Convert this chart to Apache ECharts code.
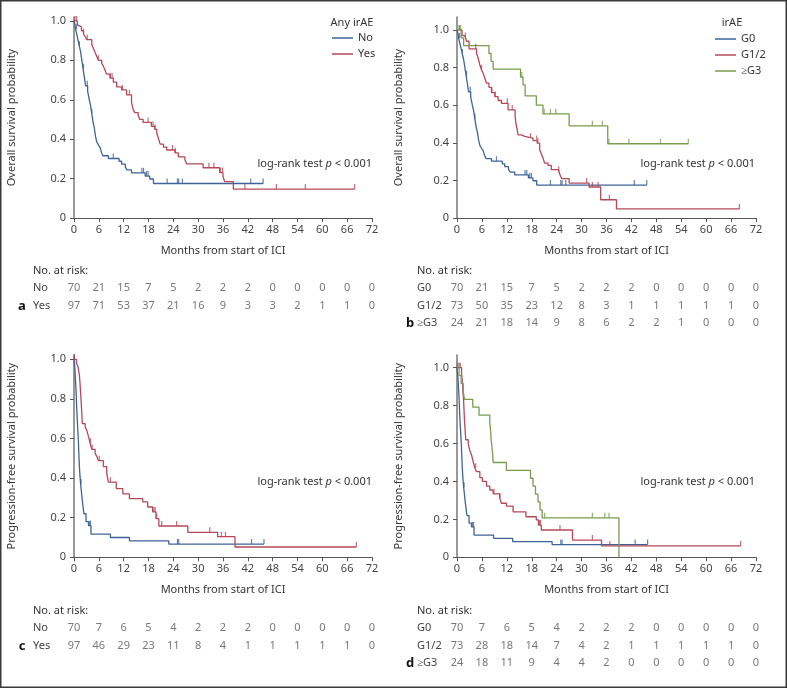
<!DOCTYPE html>
<html><head><meta charset="utf-8">
<script src="https://cdn.jsdelivr.net/npm/echarts@6/dist/echarts.min.js"></script>
<style>html,body{margin:0;padding:0;background:#fff}#c{width:787px;height:688px}</style>
</head><body><div id="c"></div>
<script>
// ---------- tick labels ----------
const xTicks = [0,6,12,18,24,30,36,42,48,54,60,66,72];
const yTicks = [0,0.2,0.4,0.6,0.8,1.0];

// ---------- Overall survival (a, b) ----------
const osNo = [[0,1],[0.2,0.986],[0.4,0.957],[0.7,0.929],[1.0,0.9],[1.3,0.871],[1.6,0.843],[1.9,0.8],[2.2,0.757],[2.5,0.714],[2.8,0.671],[3.3,0.643],[3.7,0.6],[4.0,0.571],[4.3,0.529],[4.6,0.486],[4.9,0.457],[5.2,0.414],[5.5,0.386],[5.9,0.371],[6.3,0.357],[6.7,0.329],[7.0,0.316],[8.3,0.302],[10.9,0.288],[11.5,0.273],[12.4,0.259],[12.8,0.244],[13.9,0.229],[17.2,0.213],[18.3,0.198],[19.2,0.175],[45.7,0.175]];
const osNoCens = [0.6,1.3,2.3,3.2,4.3,9.5,16.4,16.8,17.5,17.9,22.5,25.0,25.3,26.2,42.7,45.7];
const osYes = [[0,1],[0.8,0.98],[1.1,0.97],[1.8,0.95],[2.3,0.935],[2.7,0.92],[3.1,0.905],[4.3,0.88],[4.7,0.86],[5.1,0.84],[5.5,0.82],[5.9,0.80],[6.7,0.785],[7.1,0.77],[7.5,0.75],[7.9,0.73],[8.7,0.71],[9.5,0.69],[10.3,0.665],[11.5,0.65],[12.7,0.625],[13.9,0.585],[14.3,0.55],[14.7,0.535],[15.5,0.52],[15.9,0.50],[16.7,0.485],[18.7,0.465],[19.5,0.45],[20.0,0.43],[20.4,0.405],[20.8,0.375],[21.6,0.36],[22.4,0.345],[24.4,0.33],[25.2,0.31],[26.8,0.295],[27.2,0.275],[31.2,0.255],[35.2,0.23],[36.0,0.21],[36.4,0.185],[38.5,0.147],[67.8,0.147]];
const osYesCens = [0.25,0.65,2.3,3.2,5.9,8.8,9.2,11.7,13.4,17.9,19.1,19.6,23.8,24.5,32.6,33.8,35.4,35.9,41.3,48.9,55.9,67.8];
const osG12 = [[0,1],[1.2,0.97],[1.9,0.96],[2.3,0.94],[2.9,0.90],[4.7,0.876],[5.1,0.85],[5.5,0.814],[5.9,0.788],[6.3,0.77],[6.7,0.743],[7.1,0.717],[7.7,0.695],[8.3,0.667],[9.1,0.646],[9.9,0.625],[10.7,0.61],[12.3,0.575],[14.0,0.54],[14.2,0.50],[14.5,0.47],[14.7,0.442],[15.5,0.434],[16.3,0.425],[18.3,0.412],[19.3,0.398],[19.9,0.363],[20.3,0.342],[20.7,0.319],[21.1,0.292],[21.9,0.28],[22.7,0.257],[24.4,0.248],[24.8,0.23],[25.2,0.209],[27.0,0.186],[31.8,0.165],[34.6,0.097],[38.4,0.048],[68.0,0.048]];
const osG12Cens = [0.6,2.0,4.5,5.9,8.4,9.2,12.1,13.3,17.7,19.2,19.5,24.5,31.2,32.6,34.0,36.7,68.0];
const osG3 = [[0,1],[1.0,0.958],[1.6,0.917],[7.7,0.875],[8.2,0.833],[8.7,0.792],[15.3,0.75],[15.9,0.708],[16.4,0.65],[19.1,0.60],[20.7,0.554],[27.0,0.49],[36.3,0.395],[55.7,0.395]];
const osG3Cens = [0.5,0.9,15.6,21.0,22.5,23.8,32.6,35.0,36.6,41.4,49.0,55.7];

// ---------- Progression-free survival (c, d) ----------
const pfsNo = [[0,1],[0.2,0.957],[0.35,0.9],[0.5,0.84],[0.64,0.76],[0.85,0.67],[1.05,0.59],[1.2,0.51],[1.3,0.46],[1.45,0.41],[1.6,0.37],[1.85,0.32],[2.1,0.27],[2.4,0.22],[2.9,0.18],[3.5,0.16],[4.1,0.117],[8.8,0.10],[13.4,0.083],[22.9,0.067],[45.9,0.067]];
const pfsNoCens = [0.1,1.7,3.7,4.0,25.0,25.3,42.9,45.9];
const pfsYes = [[0,1],[0.6,0.98],[1.0,0.96],[1.3,0.92],[1.45,0.88],[1.6,0.83],[1.75,0.78],[1.9,0.72],[2.0,0.675],[2.7,0.66],[3.1,0.64],[3.5,0.61],[3.9,0.576],[4.3,0.545],[5.1,0.525],[5.5,0.51],[5.9,0.488],[7.1,0.458],[7.9,0.424],[8.3,0.38],[10.2,0.347],[11.8,0.32],[13.4,0.296],[16.6,0.28],[17.8,0.254],[19.0,0.229],[19.8,0.195],[20.5,0.158],[27.5,0.126],[34.7,0.104],[38.9,0.052],[68.2,0.052]];
const pfsYesCens = [0.1,4.0,4.4,6.1,8.8,19.3,19.6,20.0,21.2,24.8,32.8,35.6,36.6,68.2];
const pfsG12 = [[0,1],[1.1,0.97],[1.3,0.92],[1.45,0.87],[1.6,0.82],[1.7,0.77],[1.8,0.72],[1.9,0.69],[2.1,0.62],[2.7,0.60],[3.05,0.566],[3.5,0.54],[3.9,0.504],[4.3,0.47],[4.7,0.452],[5.5,0.42],[6.1,0.40],[7.1,0.375],[7.9,0.355],[8.7,0.334],[10.3,0.311],[10.7,0.285],[11.9,0.27],[13.5,0.24],[16.6,0.214],[19.1,0.197],[19.6,0.17],[20.3,0.144],[27.8,0.091],[34.8,0.06],[68.3,0.06]];
const pfsG12Cens = [0.5,0.8,4.5,8.9,10.3,19.9,20.1,24.8,32.6,36.8,68.3];
const pfsG3 = [[0,1],[0.5,0.958],[1.0,0.917],[1.5,0.875],[1.8,0.833],[3.8,0.792],[5.3,0.75],[7.9,0.708],[8.1,0.667],[8.2,0.625],[8.4,0.583],[8.6,0.542],[8.7,0.50],[11.9,0.458],[17.7,0.417],[18.3,0.375],[18.9,0.333],[19.5,0.292],[20.0,0.25],[20.5,0.208],[39.0,0]];
const pfsG3Cens = [0.25,21.1,32.6,35.6,36.6];

// ---------- numbers at risk ----------
const riskOsNo  = [70,21,15,7,5,2,2,2,0,0,0,0,0];
const riskOsYes = [97,71,53,37,21,16,9,3,3,2,1,1,0];
const riskOsG0  = [70,21,15,7,5,2,2,2,0,0,0,0,0];
const riskOsG12 = [73,50,35,23,12,8,3,1,1,1,1,1,0];
const riskOsG3  = [24,21,18,14,9,8,6,2,2,1,0,0,0];
const riskPfsNo  = [70,7,6,5,4,2,2,2,0,0,0,0,0];
const riskPfsYes = [97,46,29,23,11,8,4,1,1,1,1,1,0];
const riskPfsG0  = [70,7,6,5,4,2,2,2,0,0,0,0,0];
const riskPfsG12 = [73,28,18,14,7,4,2,1,1,1,1,1,0];
const riskPfsG3  = [24,18,11,9,4,4,2,0,0,0,0,0,0];

// ---------- styling ----------
const FONT = 'Noto Sans';
const BLUE = '#3f6397', RED = '#b5495a', GREEN = '#7a9c4f';
const FS = 11;

function valAt(curve, t){ let v = curve[0][1]; for (const p of curve){ if (p[0] <= t) v = p[1]; else break; } return v; }

const grids = [], xAxes = [], yAxes = [], series = [];

function addPanel(g, yMax, yName, nameGap, curves){
  const gi = grids.length;
  grids.push(g);
  xAxes.push({gridIndex:gi, type:'value', min:0, max:72, interval:6,
    axisLine:{show:true, onZero:false, lineStyle:{color:'#555', width:1}},
    axisTick:{show:true, length:4, lineStyle:{color:'#555'}},
    axisLabel:{color:'#444', fontSize:FS, fontFamily:FONT, margin:6},
    splitLine:{show:false},
    name:'Months from start of ICI', nameLocation:'middle', nameGap:27,
    nameTextStyle:{color:'#333', fontSize:FS, fontFamily:FONT}});
  yAxes.push({gridIndex:gi, type:'value', min:0, max:yMax,
    axisLine:{show:true, onZero:false, lineStyle:{color:'#777', width:1.5}},
    axisTick:{show:true, length:4, customValues:yTicks, lineStyle:{color:'#555'}},
    axisLabel:{customValues:yTicks, color:'#444', fontSize:FS, fontFamily:FONT, margin:8,
      formatter: v => v === 0 ? '0' : v.toFixed(1)},
    splitLine:{show:false},
    name:yName, nameLocation:'middle', nameGap:nameGap,
    nameTextStyle:{color:'#333', fontSize:FS, fontFamily:FONT}});
  curves.forEach(c => {
    series.push({type:'line', name:c.name, xAxisIndex:gi, yAxisIndex:gi, data:c.data, step:'end',
      symbol:'none', lineStyle:{color:c.color, width:1.3}, itemStyle:{color:c.color}, silent:true, z:3});
    series.push({type:'scatter', xAxisIndex:gi, yAxisIndex:gi,
      data:c.cens.map(t => [t, valAt(c.data, t)]), symbol:'rect', symbolSize:[1.2,5], symbolOffset:[0,-2.5],
      itemStyle:{color:c.color}, silent:true, z:4});
  });
}

function addRisk(g, rows, labelMargin){
  const gi = grids.length;
  grids.push(g);
  xAxes.push({gridIndex:gi, type:'value', min:0, max:72, show:false});
  yAxes.push({gridIndex:gi, type:'category', inverse:true, data:rows.map(r => r.name),
    axisLine:{show:false}, axisTick:{show:false}, splitLine:{show:false},
    axisLabel:{show:true, align:'left', margin:labelMargin, color:'#444', fontSize:FS, fontFamily:FONT}});
  rows.forEach(r => {
    series.push({type:'scatter', xAxisIndex:gi, yAxisIndex:gi, symbolSize:0, silent:true,
      data:xTicks.map((t,i) => [t, r.name, r.vals[i]]),
      label:{show:true, position:'inside', formatter:p => String(p.value[2]), color:'#555', fontSize:FS, fontFamily:FONT}});
  });
}

// panel a
addPanel({left:74, top:17, width:298, height:201}, 1.02, 'Overall survival probability', 57, [
  {name:'No', data:osNo, cens:osNoCens, color:BLUE},
  {name:'Yes', data:osYes, cens:osYesCens, color:RED}]);
// panel b
addPanel({left:457, top:17, width:299, height:201}, 1.069, 'Overall survival probability', 53, [
  {name:'G0', data:osNo, cens:osNoCens, color:BLUE},
  {name:'G1/2', data:osG12, cens:osG12Cens, color:RED},
  {name:'≥G3', data:osG3, cens:osG3Cens, color:GREEN}]);
// panel c
addPanel({left:74, top:355, width:298, height:202.3}, 1.022, 'Progression-free survival probability', 57, [
  {name:'No', data:pfsNo, cens:pfsNoCens, color:BLUE},
  {name:'Yes', data:pfsYes, cens:pfsYesCens, color:RED}]);
// panel d
addPanel({left:457, top:355, width:299, height:202.3}, 1.067, 'Progression-free survival probability', 53, [
  {name:'G0', data:pfsNo, cens:pfsNoCens, color:BLUE},
  {name:'G1/2', data:pfsG12, cens:pfsG12Cens, color:RED},
  {name:'≥G3', data:pfsG3, cens:pfsG3Cens, color:GREEN}]);

addRisk({left:74, top:279, width:298, height:36}, [{name:'No', vals:riskOsNo},{name:'Yes', vals:riskOsYes}], 41);
addRisk({left:457, top:279, width:299, height:53}, [{name:'G0', vals:riskOsG0},{name:'G1/2', vals:riskOsG12},{name:'≥G3', vals:riskOsG3}], 40);
addRisk({left:74, top:619, width:298, height:36}, [{name:'No', vals:riskPfsNo},{name:'Yes', vals:riskPfsYes}], 41);
addRisk({left:457, top:619, width:299, height:53}, [{name:'G0', vals:riskPfsG0},{name:'G1/2', vals:riskPfsG12},{name:'≥G3', vals:riskPfsG3}], 40);

function txt(x, y, text, opts){
  return Object.assign({type:'text', x:x, y:y, silent:true,
    style:Object.assign({text:text, fill:'#333', fontSize:FS, fontFamily:FONT, align:'left', verticalAlign:'middle'}, opts||{})});
}
const pRich = {i:{fontStyle:'italic', fontSize:FS, fontFamily:FONT, fill:'#333'}};

const graphic = [
  {type:'rect', silent:true, shape:{x:0.75, y:0.75, width:785.5, height:686.5}, style:{fill:'none', stroke:'#3a3a3a', lineWidth:1.5}},
  txt(352, 23, 'Any irAE', {align:'center'}),
  txt(732, 23, 'irAE', {align:'center'}),
  txt(372, 164, 'log-rank test {i|p} < 0.001', {align:'right', rich:pRich}),
  txt(755, 164, 'log-rank test {i|p} < 0.001', {align:'right', rich:pRich}),
  txt(372, 482, 'log-rank test {i|p} < 0.001', {align:'right', rich:pRich}),
  txt(755, 482, 'log-rank test {i|p} < 0.001', {align:'right', rich:pRich}),
  txt(33, 271, 'No. at risk:'),
  txt(417, 271, 'No. at risk:'),
  txt(33, 611, 'No. at risk:'),
  txt(417, 611, 'No. at risk:'),
  txt(22, 306, 'a', {align:'center', fontWeight:'bold', fontSize:13, fill:'#111'}),
  txt(410, 323, 'b', {align:'center', fontWeight:'bold', fontSize:13, fill:'#111'}),
  txt(22, 646, 'c', {align:'center', fontWeight:'bold', fontSize:13, fill:'#111'}),
  txt(410, 663, 'd', {align:'center', fontWeight:'bold', fontSize:13, fill:'#111'})
];

const legendCommon = {orient:'vertical', icon:'rect', itemWidth:21, itemHeight:1.5, itemGap:4, selectedMode:false, padding:0,
  textStyle:{color:'#333', fontSize:FS, fontFamily:FONT, lineHeight:12}};

const chart = echarts.init(document.getElementById('c'));
chart.setOption({
  animation:false,
  backgroundColor:'#fff',
  textStyle:{fontFamily:FONT},
  grid:grids, xAxis:xAxes, yAxis:yAxes, series:series,
  legend:[
    Object.assign({left:332, top:32, data:['No','Yes']}, legendCommon),
    Object.assign({left:715, top:33, data:['G0','G1/2','≥G3']}, legendCommon)
  ],
  graphic:graphic
});
</script></body></html>
